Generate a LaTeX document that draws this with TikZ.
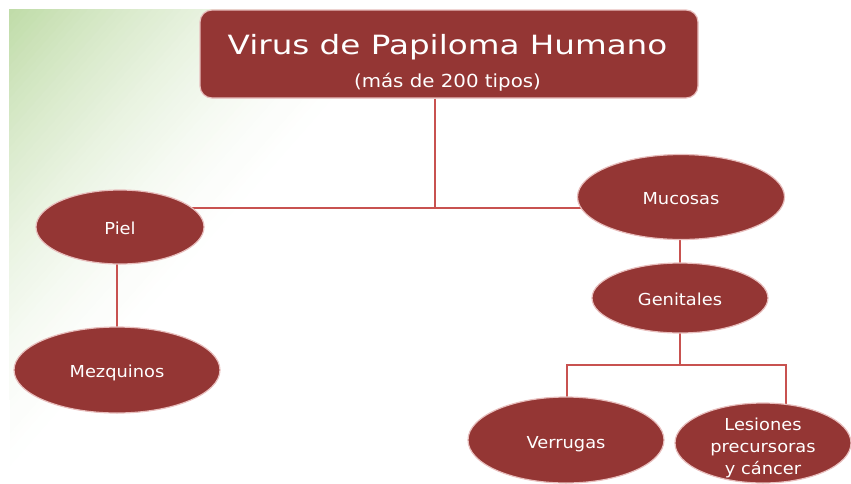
\documentclass[tikz,border=0pt]{standalone}
\usepackage{fontspec}
\usepackage{graphicx}
\setmainfont{DejaVu Sans}
\usetikzlibrary{shapes.geometric,calc}
\definecolor{hpvred}{RGB}{148,54,52}
\definecolor{hpvline}{RGB}{200,82,80}
\definecolor{hpvglow}{RGB}{232,190,189}
\definecolor{hpvgreen}{RGB}{190,219,166}
\pgfdeclarelayer{back}
\pgfdeclarelayer{bg}
\pgfsetlayers{back,bg,main}
\newcommand{\hsx}[2]{\scalebox{#1}[1]{#2}}
\begin{document}
\begin{tikzpicture}[x=1pt,y=-1pt,
  bubble/.style={ellipse, fill=hpvred, draw=hpvglow, line width=1.2pt, inner sep=0pt},
  lab/.style={text=white, font=\fontsize{16.5}{22}\selectfont, inner sep=0pt, anchor=base},
  conn/.style={draw=hpvline, line width=1.4pt}]
\useasboundingbox (0,0) rectangle (851,483);
% background gradient
\begin{pgfonlayer}{back}
\foreach \k in {60,59,...,1}{
  \pgfmathsetmacro\t{\k/60}
  \pgfmathtruncatemacro\p{100*(1-\t)^1.6}
  \fill[hpvgreen!\p!white] (9,9) -- ({9+430*\t},9) -- (9,{9+490*\t}) -- cycle;
}
\fill[white] (0,400) rectangle (9.5,483);
\end{pgfonlayer}
% title
\node[rectangle, rounded corners=12pt, fill=hpvred, draw=hpvglow, line width=1.2pt,
      minimum width=498pt, minimum height=88pt, inner sep=0pt] (title) at (449,54) {};
\node[lab, font=\fontsize{26.5}{30}\selectfont] (t1) at (447.5,54) {\hsx{1.23}{Virus de Papiloma Humano}};
\node[lab, font=\fontsize{18}{22}\selectfont] (t2) at (447.5,87) {\hsx{1.1}{(más de 200 tipos)}};
% bubbles
\node[bubble, minimum width=168pt, minimum height=74pt] (piel) at (120,227) {};
\node[bubble, minimum width=206pt, minimum height=86pt] (mezq) at (117,370) {};
\node[bubble, minimum width=207pt, minimum height=85pt] (muc) at (681,197) {};
\node[bubble, minimum width=176pt, minimum height=70pt] (gen) at (680,298) {};
\node[bubble, minimum width=196pt, minimum height=86pt] (verr) at (566,440) {};
\node[bubble, minimum width=176pt, minimum height=80pt] (les) at (763,443) {};
% labels
\node[lab] (lpiel) at ($(piel.center)+(0,7.5)$) {\hsx{1.08}{Piel}};
\node[lab] (lmezq) at ($(mezq.center)+(0,7)$) {\hsx{1.08}{Mezquinos}};
\node[lab] (lmuc) at ($(muc.center)+(0,7)$) {\hsx{1.08}{Mucosas}};
\node[lab] (lgen) at ($(gen.center)+(0,7)$) {\hsx{1.08}{Genitales}};
\node[lab] (lverr) at ($(verr.center)+(0,8)$) {\hsx{1.08}{Verrugas}};
\node[text=white, font=\fontsize{16.5}{22}\selectfont, inner sep=0pt, align=center] (lles) at (763,448)
  {\hsx{1.08}{Lesiones}\\\hsx{1.08}{precursoras}\\\hsx{1.08}{y cáncer}};
% connectors
\coordinate (j1) at (435,208);
\coordinate (j2) at (680,365);
\coordinate (j3) at (567,365);
\coordinate (j4) at (786,365);
\begin{pgfonlayer}{bg}
\draw[conn] (title.south -| j1) -- (j1);
\draw[conn] (j1 -| piel.center) -- (j1 -| muc.center);
\draw[conn] (piel.center -| mezq.center) -- (mezq.center);
\draw[conn] (muc.center -| j2) -- (gen.center);
\draw[conn] (gen.center) -- (j2);
\draw[conn] (verr.center -| j3) -- (j3) -- (j4) -- (j4 |- les.center);
\end{pgfonlayer}
\end{tikzpicture}
\end{document}
